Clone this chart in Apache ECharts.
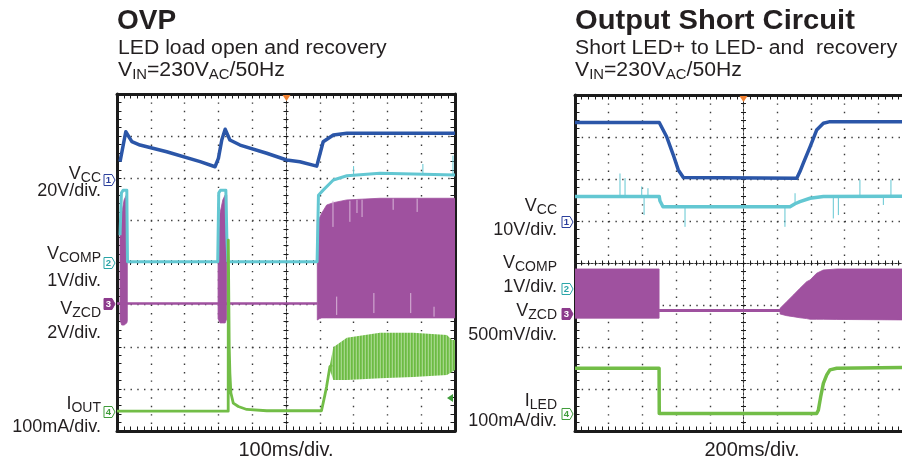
<!DOCTYPE html>
<html><head><meta charset="utf-8">
<script src="https://cdn.jsdelivr.net/npm/echarts/dist/echarts.min.js"></script>
<style>html,body{margin:0;padding:0;background:#fff}#c{width:902px;height:466px}</style>
</head><body><div id="c"></div>
<script>
// ================= DATA =================
// ---- OVP panel (time in ms, 100 ms/div) ----
const ovpScales  = {vcc: 20, vcomp: 1, vzcd: 2, iout: 100};          // per division
const ovpOffsets = {vcc: 1.958, vcomp: -0.012, vzcd: -0.985, iout: -3.549}; // ground marker, div
const ovpVcc = [[9,8.7],[26,22.9],[44,18.2],[68,16.6],[147,13.4],[246,8.7],[290,6.3],[300,10.3],[310,19.0],[320,24.1],[334,19.0],[364,16.6],[443,12.7],[502,9.5],[541,8.7],[591,6.6],[601,12.7],[610,18.2],[640,21.4],[680,22.2],[1000,22.2]]; // V
const ovpVcomp = [[9,0.66],[13,1.66],[18,1.73],[29,1.73],[31,0.03],[298,0.03],[301,1.66],[306,1.73],[322,1.73],[325,0.62],[328,0.03],[592,0.03],[596,1.61],[610,1.73],[640,1.97],[680,2.07],[778,2.13],[876,2.11],[1000,2.09]]; // V
const ovpVcompSpikes = [[700,2.07,2.3],[905,2.1,2.35],[994,2.09,2.55]]; // [ms, V low, V high]
const ovpVzcd = [[0,0.02],[592.6,0.02]]; // V
const ovpVzcdBurst1 = [[9,-0.76,3.2],[14,-1.0,4.31],[21,-1.0,4.94],[29,-0.9,5.22],[30.5,-0.8,5.22]]; // [ms, V low, V high]
const ovpVzcdBurst2 = [[299,-0.7,2.9],[305,-0.9,4.32],[313,-0.9,4.94],[320,-0.9,5.18],[324.6,-0.7,5.18]];
const ovpVzcdBurst3 = [[592.6,-0.76,4.0],[598.5,-0.7,4.07],[605.6,-0.66,4.31],[620.4,-0.66,4.7],[640,-0.66,4.81],[679.6,-0.66,4.94],[778,-0.66,5.02],[1000,-0.66,5.02]];
const ovpVzcdGaps = [[639,3.66,4.9],[689,3.9,4.9],[710,4.32,4.95],[725,4.13,4.95],[817,4.47,5.0],[888,4.37,5.0],[650,-0.52,0.35],[760,-0.43,0.52],[869,-0.43,0.52],[938,-0.6,-0.13]];
const ovpIout = [[0,2],[329,2],[329.3,408],[332,155],[334,92],[337,45],[344,21],[359,13],[384,6],[443,3],[605,3],[615,40],[620,60],[625,84],[630,108],[636,112]]; // mA
const ovpIoutBand = [[630,100,112],[640,76,154],[680,76,176],[778,80,188],[876,83,188],[976,88,183],[991,95,171],[1000,100,171]]; // [ms, mA low, mA high]

// ---- Output short circuit panel (time in ms, 200 ms/div) ----
const scScales  = {vcc: 10, vcomp: 1, vzcd: 0.5, iled: 100};
const scOffsets = {vcc: 0.976, vcomp: -0.619, vzcd: -1.214, iled: -3.595};
const scVcc = [[0,23.7],[500,23.7],[544,20.3],[583,16.0],[613,12.4],[643,10.6],[1316,10.4],[1335,12.0],[1355,14.0],[1395,17.9],[1434,21.9],[1474,23.5],[1513,23.9],[2000,23.9]]; // V
const scVcomp = [[0,2.2],[500,2.2],[504,2.1],[522,1.96],[1276,1.96],[1306,2.03],[1335,2.08],[1395,2.16],[1474,2.2],[2000,2.21]]; // V
const scVcompSpikes = [[267,2.2,2.75],[297,2.2,2.64],[396,2.2,2.44],[410,1.76,2.2],[433,2.2,2.4],[653,1.48,1.95],[1246,1.48,1.95],[1306,2.03,2.28],[1533,1.68,2.21],[1563,1.76,2.21],[1691,2.21,2.6],[1830,2.0,2.21],[1875,2.21,2.6]];
const scVzcdBandA = [[0,-0.05,0.536],[499,-0.05,0.536]]; // [ms, V low, V high]
const scVzcd = [[499,0.042],[1230,0.042]]; // V
const scVzcdBandB = [[1217,0.0,0.068],[1256,-0.02,0.146],[1296,-0.032,0.226],[1335,-0.045,0.306],[1375,-0.055,0.385],[1395,-0.063,0.405],[1434,-0.063,0.485],[1474,-0.063,0.524],[1553,-0.065,0.536],[2000,-0.071,0.536]];
const scIled = [[0,109],[499,109],[500,1],[1434,1],[1444,9],[1458,41],[1474,73],[1494,93],[1513,105],[1553,109],[2000,111]]; // mA

// ---- texts ----
const ovpTitle = 'OVP', ovpSub = 'LED load open and recovery';
const scTitle = 'Output Short Circuit', scSub = 'Short LED+ to LED- and  recovery';
const ovpTimeBase = '100ms/div.', scTimeBase = '200ms/div.';

// ================= RENDER =================
const FF = 'Liberation Sans, Arial, Helvetica, sans-serif';
const INK = '#231f20';
const COL = {vcc:'#2b56a8', vcomp:'#63c7d2', vzcd:'#9f519f', iout:'#72bd47'};

function toDiv(rows, scale, off) {
  return rows.map(r => r.length === 2 ? [r[0], off + r[1] / scale] : [r[0], off + r[1] / scale, off + r[2] / scale]);
}
function lineS(ax, rows, scale, off, color, w) {
  return {type:'line', xAxisIndex:ax, yAxisIndex:ax, data:toDiv(rows, scale, off), showSymbol:false, symbol:'none',
    lineStyle:{color:color, width:w, join:'round'}, silent:true, animation:false, clip:true, z:3};
}
function bandS(ax, rows, scale, off, fill, stroke) {
  const d = toDiv(rows, scale, off);
  return {type:'custom', xAxisIndex:ax, yAxisIndex:ax, data:d, silent:true, animation:false, clip:true, z:3,
    encode:{x:0, y:[1, 2]},
    renderItem: function (params, api) {
      if (params.dataIndex !== 0) return null;
      const pts = [];
      for (let i = 0; i < d.length; i++) pts.push(api.coord([d[i][0], d[i][2]]));
      for (let i = d.length - 1; i >= 0; i--) pts.push(api.coord([d[i][0], d[i][1]]));
      return {type:'polygon', shape:{points:pts}, style:{fill:fill, stroke:stroke || null, lineWidth:0.8}};
    }};
}
function needleS(ax, rows, scale, off, color, w) {
  const d = toDiv(rows, scale, off);
  return {type:'custom', xAxisIndex:ax, yAxisIndex:ax, data:d, silent:true, animation:false, clip:true, z:3,
    encode:{x:0, y:[1, 2]},
    renderItem: function (params, api) {
      const p1 = api.coord([api.value(0), api.value(1)]), p2 = api.coord([api.value(0), api.value(2)]);
      return {type:'line', shape:{x1:p1[0], y1:p1[1], x2:p2[0], y2:p2[1]}, style:{stroke:color, lineWidth:w}};
    }};
}

// stripe pattern for the oscillating current envelope
const pat = document.createElement('canvas'); pat.width = 3; pat.height = 6;
const pg = pat.getContext('2d');
pg.fillStyle = '#a3d688'; pg.fillRect(0, 0, 3, 6);
pg.fillStyle = '#6cbb43'; pg.fillRect(0, 0, 1.7, 6);
const stripe = {image: pat, repeat: 'repeat'};

function axesFor(gi, xmax, xint, W, H) {
  const K = '#1b1b1b';
  const frameLine = {show:true, onZero:false, lineStyle:{color:K, width:3}};
  const centerLine = {show:true, onZero:false, lineStyle:{color:'#333', width:1, type:[2, 2]}};
  const tick = len => ({show:true, inside:true, length:len, lineStyle:{color:K, width:1}});
  const minor = len => ({show:true, splitNumber:5, length:len, lineStyle:{color:K, width:1}});
  const dotV = {show:true, lineStyle:{color:'#3a3a3a', width:1.4, type:[1.4, H / 40 - 1.4]}};
  const dotH = {show:true, lineStyle:{color:'#3a3a3a', width:1.4, type:[1.4, W / 50 - 1.4]}};
  const none = {show:false};
  const cx = {gridIndex:gi, type:'value', min:0, max:xmax, interval:xint, axisLabel:none, silent:true, axisPointer:none};
  const cy = {gridIndex:gi, type:'value', min:-4, max:4, interval:1, axisLabel:none, silent:true, axisPointer:none};
  const xs = [
    Object.assign({}, cx, {position:'bottom', axisLine:frameLine, axisTick:tick(4.5), minorTick:minor(4.5), splitLine:dotV}),
    Object.assign({}, cx, {position:'top', axisLine:frameLine, axisTick:tick(4.5), minorTick:minor(4.5), splitLine:none}),
    Object.assign({}, cx, {position:'bottom', offset:-H / 2, axisLine:centerLine, axisTick:tick(2.5), minorTick:minor(2.5), splitLine:none}),
    Object.assign({}, cx, {position:'top', offset:-H / 2, axisLine:centerLine, axisTick:tick(2.5), minorTick:minor(2.5), splitLine:none})
  ];
  const ys = [
    Object.assign({}, cy, {position:'left', axisLine:frameLine, axisTick:tick(4.5), minorTick:minor(4.5), splitLine:dotH}),
    Object.assign({}, cy, {position:'right', axisLine:frameLine, axisTick:tick(4.5), minorTick:minor(4.5), splitLine:none}),
    Object.assign({}, cy, {position:'left', offset:-W / 2, axisLine:centerLine, axisTick:tick(2.5), minorTick:minor(2.5), splitLine:none}),
    Object.assign({}, cy, {position:'right', offset:-W / 2, axisLine:centerLine, axisTick:tick(2.5), minorTick:minor(2.5), splitLine:none})
  ];
  return {xs, ys};
}

const G0 = {left:117, top:94, width:338, height:337};
const G1 = {left:575, top:95, width:337, height:336};
const a0 = axesFor(0, 1000, 100, G0.width, G0.height);
const a1 = axesFor(1, 2000, 200, G1.width, G1.height);

const so = ovpScales, oo = ovpOffsets, ss = scScales, sf = scOffsets;
const series = [
  lineS(0, ovpVcc, so.vcc, oo.vcc, COL.vcc, 3.5),
  lineS(0, ovpVcomp, so.vcomp, oo.vcomp, COL.vcomp, 3),
  needleS(0, ovpVcompSpikes, so.vcomp, oo.vcomp, COL.vcomp, 1),
  bandS(0, ovpVzcdBurst1, so.vzcd, oo.vzcd, COL.vzcd, COL.vzcd),
  bandS(0, ovpVzcdBurst2, so.vzcd, oo.vzcd, COL.vzcd, COL.vzcd),
  bandS(0, ovpVzcdBurst3, so.vzcd, oo.vzcd, COL.vzcd, COL.vzcd),
  lineS(0, ovpVzcd, so.vzcd, oo.vzcd, COL.vzcd, 2.5),
  needleS(0, ovpVzcdGaps, so.vzcd, oo.vzcd, '#d8b6d8', 1),
  bandS(0, ovpIoutBand, so.iout, oo.iout, stripe, null),
  lineS(0, ovpIout, so.iout, oo.iout, COL.iout, 2.8),

  lineS(4, scVcc, ss.vcc, sf.vcc, COL.vcc, 3.5),
  lineS(4, scVcomp, ss.vcomp, sf.vcomp, COL.vcomp, 3.5),
  needleS(4, scVcompSpikes, ss.vcomp, sf.vcomp, COL.vcomp, 1),
  bandS(4, scVzcdBandA, ss.vzcd, sf.vzcd, COL.vzcd, COL.vzcd),
  lineS(4, scVzcd, ss.vzcd, sf.vzcd, COL.vzcd, 3),
  bandS(4, scVzcdBandB, ss.vzcd, sf.vzcd, COL.vzcd, COL.vzcd),
  lineS(4, scIled, ss.iled, sf.iled, COL.iout, 3.5)
];

const chart = echarts.init(document.getElementById('c'), null, {renderer:'canvas'});
chart.setOption({
  backgroundColor:'#ffffff',
  animation:false,
  grid:[Object.assign({show:false, containLabel:false, outerBoundsMode:'none'}, G0),
        Object.assign({show:false, containLabel:false, outerBoundsMode:'none'}, G1)],
  xAxis: a0.xs.concat(a1.xs),
  yAxis: a0.ys.concat(a1.ys),
  series: series
});

// ---------- texts & markers ----------
function txt(x, capMid, parts, o) {
  o = o || {};
  const fs = o.fs || 18, sfs = o.sfs || 14, lh = fs + 4;
  const text = parts.map(p => typeof p === 'string' ? '{n|' + p + '}' : '{s|' + p[0] + '}').join('');
  return {type:'text', x:x, y:capMid - lh / 2, scaleX:o.sx || 1, z:50, silent:true,
    style:{text:text, textAlign:o.align || 'right', textVerticalAlign:'top',
      rich:{n:{fontSize:fs, fontFamily:FF, fontWeight:o.bold ? 'bold' : 'normal', lineHeight:lh, fill:INK},
            s:{fontSize:sfs, fontFamily:FF, lineHeight:10, verticalAlign:'bottom', fill:INK}}}};
}
function marker(x, y, num, color, filled) {
  return {type:'group', z:60, silent:true, children:[
    {type:'polygon', shape:{points:[[x, y - 5.5], [x + 8, y - 5.5], [x + 11, y], [x + 8, y + 5.5], [x, y + 5.5]]},
      style:{fill:filled ? color : '#fff', stroke:color, lineWidth:1}},
    {type:'text', x:x + 4.3, y:y + 0.5, style:{text:num, fontSize:9.5, fontFamily:FF, fontWeight:'bold',
      fill:filled ? '#fff' : color, textAlign:'center', textVerticalAlign:'middle'}}
  ]};
}
function gy(ax, v) { return chart.convertToPixel({xAxisIndex:ax, yAxisIndex:ax}, [0, v])[1]; }

const L = 101, R = 557;
const graphic = [
  txt(117, 21, [ovpTitle], {fs:28, bold:true, align:'left'}),
  txt(118, 48, [ovpSub], {fs:20, align:'left', sx:1.06}),
  txt(118, 70, ['V', ['IN'], '=230V', ['AC'], '/50Hz'], {fs:20, align:'left', sx:1.06}),
  txt(575, 21, [scTitle], {fs:28, bold:true, align:'left', sx:1.04}),
  txt(575, 48, [scSub], {fs:20, align:'left', sx:1.06}),
  txt(575, 70, ['V', ['IN'], '=230V', ['AC'], '/50Hz'], {fs:20, align:'left', sx:1.06}),

  txt(L, 174, ['V', ['CC']]), txt(L, 191, ['20V/div.']),
  txt(L, 254.5, ['V', ['COMP']]), txt(L, 281, ['1V/div.']),
  txt(L, 309, ['V', ['ZCD']]), txt(L, 333, ['2V/div.']),
  txt(L, 404, ['I', ['OUT']]), txt(L, 427, ['100mA/div.']),

  txt(R, 206.5, ['V', ['CC']]), txt(R, 230, ['10V/div.']),
  txt(R, 263.5, ['V', ['COMP']]), txt(R, 287.5, ['1V/div.']),
  txt(R, 311.5, ['V', ['ZCD']]), txt(R, 335, ['500mV/div.']),
  txt(R, 401.5, ['I', ['LED']]), txt(R, 421, ['100mA/div.']),

  txt(286, 450, [ovpTimeBase], {fs:20, align:'center'}),
  txt(752, 450, [scTimeBase], {fs:20, align:'center'}),

  marker(104, gy(0, oo.vcc), '1', '#2b3f9c', false),
  marker(104, gy(0, oo.vcomp), '2', '#2aa5a8', false),
  marker(104, gy(0, oo.vzcd), '3', '#8c3a8c', true),
  marker(104, gy(0, oo.iout), '4', '#3f9c3a', false),
  marker(562, gy(4, sf.vcc), '1', '#2b3f9c', false),
  marker(562, gy(4, sf.vcomp), '2', '#2aa5a8', false),
  marker(562, gy(4, sf.vzcd), '3', '#8c3a8c', true),
  marker(562, gy(4, sf.iled), '4', '#3f9c3a', false),

  {type:'polygon', z:60, silent:true, shape:{points:[[282.5, 95], [290.5, 95], [286.5, 101]]}, style:{fill:'#f08030'}},
  {type:'polygon', z:60, silent:true, shape:{points:[[739.5, 96], [747.5, 96], [743.5, 102]]}, style:{fill:'#f08030'}},
  {type:'polygon', z:60, silent:true, shape:{points:[[447, 398], [453, 394], [453, 402]]}, style:{fill:'#3f9c3a'}}
];
chart.setOption({graphic: graphic});
</script>
</body></html>
